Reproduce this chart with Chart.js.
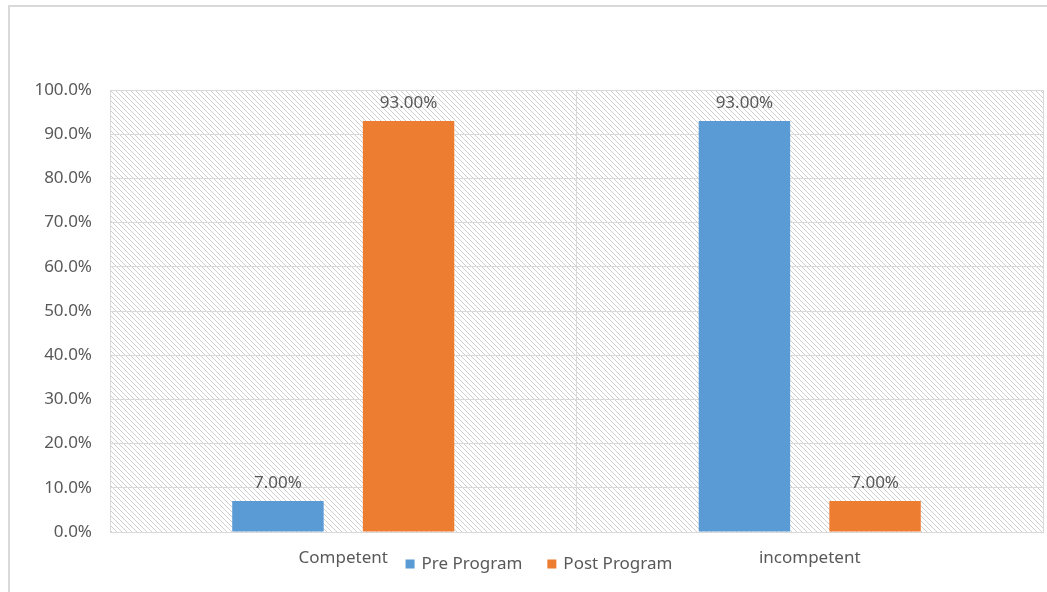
<!DOCTYPE html>
<html>
<head>
<meta charset="utf-8">
<script src="https://cdn.jsdelivr.net/npm/chart.js@4/dist/chart.umd.min.js"></script>
<style>
  html, body { margin: 0; padding: 0; background: #fff; }
  #wrap { width: 1047px; height: 592px; position: relative; }
</style>
</head>
<body>
<div id="wrap"><canvas id="chart"></canvas></div>
<script>
// chart data
const categories = ["Competent", "incompetent"];
const preProgram = [7.0, 93.0];
const postProgram = [93.0, 7.0];
const seriesNames = ["Pre Program", "Post Program"];
const yTicks = [0, 10, 20, 30, 40, 50, 60, 70, 80, 90, 100];

const textColor = "#595959";
const gridColor = "#d9d9d9";
const fontFamily = "'Noto Sans', 'Open Sans', sans-serif";

// diagonal hatch for plot background
function makeHatch() {
    const c = document.createElement("canvas");
    c.width = 5;
    c.height = 5;
    const g = c.getContext("2d");
    g.strokeStyle = "#cfcfcf";
    g.lineWidth = 1;
    g.beginPath();
    g.moveTo(-1, -1);
    g.lineTo(6, 6);
    g.moveTo(-1, 4);
    g.lineTo(1, 6);
    g.moveTo(4, -1);
    g.lineTo(6, 1);
    g.stroke();
    return g.createPattern(c, "repeat");
}

const backdrop = {
    id: "backdrop",
    beforeDraw(chart) {
        const { ctx, chartArea: a } = chart;
        ctx.save();
        // outer frame
        ctx.strokeStyle = "#d9d9d9";
        ctx.lineWidth = 2;
        ctx.beginPath();
        ctx.moveTo(9, chart.height);
        ctx.lineTo(9, 6);
        ctx.lineTo(chart.width, 6);
        ctx.stroke();
        ctx.fillStyle = makeHatch();
        ctx.fillRect(a.left, a.top, a.right - a.left, a.bottom - a.top);
        ctx.restore();
    }
};

const valueLabels = {
    id: "valueLabels",
    afterDatasetsDraw(chart) {
        const { ctx } = chart;
        ctx.save();
        ctx.font = "17px " + fontFamily;
        ctx.fillStyle = textColor;
        ctx.textAlign = "center";
        ctx.textBaseline = "bottom";
        chart.data.datasets.forEach((ds, i) => {
            chart.getDatasetMeta(i).data.forEach((bar, j) => {
                ctx.fillText(ds.data[j].toFixed(2) + "%", bar.x, bar.y - 9);
            });
        });
        ctx.restore();
    }
};

const bottomLegend = {
    id: "bottomLegend",
    afterDraw(chart) {
        const { ctx } = chart;
        ctx.save();
        ctx.font = "17px " + fontFamily;
        ctx.textBaseline = "middle";
        ctx.textAlign = "left";
        const box = 9, gapText = 7, gapItem = 25;
        const items = chart.data.datasets.map(ds => ({ label: ds.label, color: ds.backgroundColor }));
        let total = 0;
        items.forEach((it, i) => {
            it.w = ctx.measureText(it.label).width;
            total += box + gapText + it.w + (i < items.length - 1 ? gapItem : 0);
        });
        let x = 539 - total / 2;
        const y = 564;
        items.forEach(it => {
            ctx.fillStyle = it.color;
            ctx.fillRect(x, y - box / 2, box, box);
            x += box + gapText;
            ctx.fillStyle = textColor;
            ctx.fillText(it.label, x, y);
            x += it.w + gapItem;
        });
        ctx.restore();
    }
};

new Chart(document.getElementById("chart"), {
    type: "bar",
    data: {
        labels: categories,
        datasets: [
            {
                label: seriesNames[0],
                data: preProgram,
                backgroundColor: "#5b9bd5",
                categoryPercentage: 0.56,
                barPercentage: 0.7,
            },
            {
                label: seriesNames[1],
                data: postProgram,
                backgroundColor: "#ed7d31",
                categoryPercentage: 0.56,
                barPercentage: 0.7,
            },
        ],
    },
    options: {
        responsive: true,
        maintainAspectRatio: false,
        animation: false,
        layout: { padding: { top: 90, right: 4, left: 0, bottom: 0 } },
        plugins: {
            legend: { display: false },
            tooltip: { enabled: false },
        },
        scales: {
            x: {
                grid: { color: gridColor, drawTicks: false, offset: true },
                border: { color: gridColor },
                ticks: {
                    color: textColor,
                    font: { family: fontFamily, size: 17 },
                    padding: 16,
                },
                afterFit(scale) { scale.height = 60; },
            },
            y: {
                min: 0,
                max: 100,
                afterBuildTicks(scale) { scale.ticks = yTicks.map(v => ({ value: v })); },
                grid: { color: gridColor, drawTicks: false },
                border: { color: gridColor },
                ticks: {
                    color: textColor,
                    font: { family: fontFamily, size: 17 },
                    padding: 18,
                    callback: v => v.toFixed(1) + "%",
                },
                afterFit(scale) { scale.width = 110; },
            },
        },
    },
    plugins: [backdrop, valueLabels, bottomLegend],
});
</script>
</body>
</html>
